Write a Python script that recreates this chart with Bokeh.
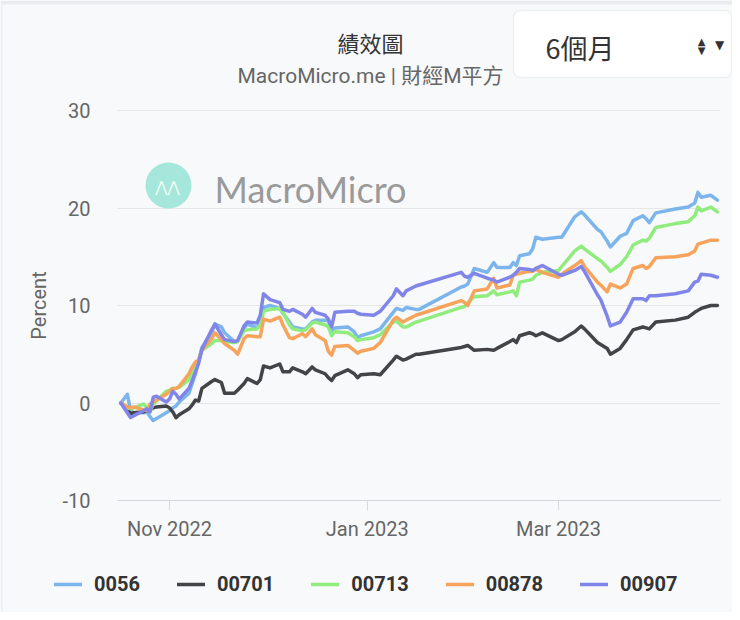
import math
import pandas as pd
from bokeh.plotting import figure
from bokeh.models import (ColumnDataSource, Range1d, FixedTicker, DatetimeTickFormatter,
                          Legend, LegendItem, Label, BoxAnnotation)
from bokeh.embed import file_html
from bokeh.resources import INLINE

dates = ["2022-10-17", "2022-10-19", "2022-10-20", "2022-10-21", "2022-10-24", "2022-10-25",
         "2022-10-26", "2022-10-27", "2022-10-28", "2022-10-31", "2022-11-01", "2022-11-02",
         "2022-11-03", "2022-11-04", "2022-11-07", "2022-11-08", "2022-11-09", "2022-11-10",
         "2022-11-11", "2022-11-14", "2022-11-15", "2022-11-17", "2022-11-18", "2022-11-21",
         "2022-11-22", "2022-11-24", "2022-11-25", "2022-11-28", "2022-11-29", "2022-11-30",
         "2022-12-02", "2022-12-05", "2022-12-06", "2022-12-08", "2022-12-09", "2022-12-12",
         "2022-12-13", "2022-12-15", "2022-12-16", "2022-12-19", "2022-12-20", "2022-12-21",
         "2022-12-22", "2022-12-26", "2022-12-28", "2022-12-29", "2022-12-30", "2023-01-03",
         "2023-01-05", "2023-01-09", "2023-01-10", "2023-01-12", "2023-01-13", "2023-01-16",
         "2023-01-17", "2023-01-30", "2023-01-31", "2023-02-01", "2023-02-03", "2023-02-07",
         "2023-02-09", "2023-02-10", "2023-02-14", "2023-02-15", "2023-02-16", "2023-02-17",
         "2023-02-20", "2023-02-21", "2023-02-22", "2023-02-24", "2023-03-01", "2023-03-02",
         "2023-03-06", "2023-03-08", "2023-03-09", "2023-03-13", "2023-03-14", "2023-03-16",
         "2023-03-17", "2023-03-20", "2023-03-22", "2023-03-24", "2023-03-27", "2023-03-28",
         "2023-03-29", "2023-03-31", "2023-04-06", "2023-04-10", "2023-04-12", "2023-04-13",
         "2023-04-14", "2023-04-17", "2023-04-19"]

s0056 = [0, 0.9, -0.8, -1.0, -1.0, -0.9, -1.4, -1.8, -1.6, -1.0, -0.8, -0.5,
         -0.3, 0.1, 1.0, 2.0, 3.0, 4.4, 5.7, 7.2, 8.1, 7.8, 7.2, 6.3,
         6.3, 7.7, 8.1, 7.7, 8.2, 9.8, 10.0, 9.7, 9.2, 8.3, 7.8, 7.6,
         7.6, 8.3, 8.5, 8.5, 8.4, 7.4, 7.7, 7.8, 7.3, 6.7, 6.9, 7.3,
         7.6, 9.3, 9.7, 9.5, 9.8, 9.6, 9.6, 11.9, 12.0, 12.2, 13.8, 13.4,
         14.4, 13.9, 13.9, 14.4, 14.1, 15.1, 15.3, 15.8, 17.0, 16.8, 17.0, 17.0,
         19.1, 19.6, 19.3, 17.8, 17.6, 16.6, 16.0, 17.1, 17.4, 18.7, 19.2, 18.9,
         18.5, 19.5, 19.9, 20.1, 20.5, 21.6, 21.1, 21.3, 20.8]

s00701 = [0, -0.6, -1.1, -1.0, -0.9, -0.8, -0.7, -0.5, -0.4, -0.3, -0.5, -0.9,
          -1.5, -1.2, -0.6, -0.2, 0.3, 0.2, 1.5, 2.2, 2.4, 2.1, 1.0, 1.0,
          1.3, 2.0, 2.5, 2.0, 2.4, 3.8, 3.6, 4.0, 3.2, 3.2, 3.6, 3.2,
          3.0, 3.7, 3.4, 3.0, 2.6, 2.3, 2.8, 3.4, 3.0, 2.6, 2.9, 3.0,
          2.9, 4.4, 4.8, 4.4, 4.5, 5.0, 5.0, 5.7, 5.8, 5.9, 5.4, 5.5,
          5.4, 5.6, 6.3, 6.5, 6.2, 6.9, 7.2, 7.1, 6.9, 7.2, 6.4, 6.5,
          7.3, 7.9, 7.6, 6.2, 6.0, 5.6, 5.0, 5.6, 6.5, 7.5, 7.8, 7.7,
          7.6, 8.3, 8.5, 8.8, 9.3, 9.5, 9.7, 10.0, 10.0]

s00713 = [0, -0.5, -0.6, -0.5, -0.1, -0.5, -0.8, -0.1, 0.2, 1.2, 1.3, 1.5,
          1.5, 1.6, 2.4, 3.2, 3.8, 4.4, 5.4, 6.1, 6.4, 6.4, 6.3, 6.2,
          6.3, 7.4, 7.5, 7.6, 8.0, 9.4, 9.6, 9.7, 9.3, 8.0, 7.6, 7.4,
          7.5, 8.2, 8.3, 8.0, 7.8, 6.9, 7.3, 7.2, 6.8, 6.4, 6.5, 6.7,
          7.0, 8.3, 8.4, 7.8, 7.8, 8.3, 8.4, 9.8, 9.9, 10.3, 10.9, 11.0,
          11.5, 11.1, 11.4, 11.5, 11.0, 12.4, 12.6, 12.7, 13.1, 13.4, 13.6, 14.0,
          15.6, 16.1, 15.8, 14.8, 14.6, 13.9, 13.5, 14.2, 15.0, 16.2, 16.7, 16.6,
          16.9, 18.0, 18.4, 18.6, 19.2, 20.1, 19.7, 20.1, 19.6]

s00878 = [0, -0.4, -0.5, -0.4, -0.7, -0.8, -0.1, 0.1, 0.3, 0.9, 1.2, 1.5,
          1.5, 1.7, 3.0, 3.7, 4.2, 4.4, 5.4, 6.6, 7.2, 6.5, 6.1, 5.4,
          5.0, 6.6, 6.9, 6.8, 6.8, 8.6, 8.4, 8.8, 8.0, 6.7, 6.6, 7.1,
          6.8, 7.6, 7.0, 6.4, 5.3, 4.9, 5.8, 5.9, 5.4, 5.1, 5.3, 5.6,
          6.2, 8.5, 8.8, 8.3, 8.5, 9.0, 9.1, 10.5, 10.3, 10.0, 11.5, 11.7,
          12.8, 11.8, 12.1, 13.1, 13.2, 13.3, 13.5, 13.5, 13.7, 13.4, 12.9, 13.2,
          14.1, 14.6, 14.0, 12.4, 12.1, 11.4, 12.2, 11.8, 12.2, 13.8, 14.1, 13.8,
          14.0, 14.9, 15.0, 15.2, 15.6, 16.3, 16.4, 16.7, 16.7]

s00907 = [0, -1.0, -1.5, -1.3, -0.8, -0.6, -0.9, 0.6, 0.7, 0.1, 0.4, 1.2,
          0.9, 0.4, 1.5, 2.3, 3.2, 4.1, 5.5, 7.5, 8.1, 7.0, 6.5, 6.3,
          6.4, 7.9, 8.3, 8.2, 9.0, 11.2, 10.6, 10.3, 9.6, 9.4, 9.6, 9.1,
          8.8, 9.7, 9.3, 9.0, 8.6, 7.8, 9.3, 9.4, 9.4, 9.2, 9.1, 9.0,
          9.4, 11.0, 11.7, 11.0, 11.5, 12.0, 12.1, 13.4, 13.0, 12.9, 13.3, 12.8,
          12.6, 12.4, 12.9, 13.1, 13.4, 13.8, 13.7, 13.6, 13.8, 14.1, 13.2, 13.1,
          13.6, 14.0, 13.5, 11.1, 10.6, 8.9, 7.9, 8.3, 9.3, 10.7, 10.7, 10.5,
          11.0, 11.0, 11.2, 11.5, 12.4, 12.5, 13.2, 13.1, 12.9]

series_names = ["0056", "00701", "00713", "00878", "00907"]
series_values = [s0056, s00701, s00713, s00878, s00907]
colors = ["#7cb5ec", "#434348", "#90ed7d", "#f7a35c", "#8085e9"]

x_ticks = ["2022-11-01", "2023-01-01", "2023-03-01"]
y_ticks = [-10, 0, 10, 20, 30]
y_tick_labels = ["-10", "0", "10", "20", "30"]

title_text = "績效圖"
subtitle_text = "MacroMicro.me | 財經M平方"
select_text = "6個月"
watermark_text = "MacroMicro"
y_label = "Percent"

FONT = "Roboto, 'Noto Sans CJK TC'"
CJK = "'Noto Sans CJK TC', Roboto"
BG = "#f8f9fa"
W, H = 732, 612

# plotting area (in canvas pixels) -> data windows
PX_LEFT, PX_RIGHT, PX_TOP, PX_BOTTOM = 117, 720, 110, 500
Y_MIN, Y_MAX = -10, 30
x0 = pd.Timestamp("2022-11-01")
PX_X0 = 169.0          # canvas x of 2022-11-01
PX_PER_DAY = 3.242
px_per_unit = (PX_BOTTOM - PX_TOP) / (Y_MAX - Y_MIN)


def day_at(px):
    return x0 + pd.Timedelta(days=(px - PX_X0) / PX_PER_DAY)


def ms(ts):
    return ts.value // 10**6


data_left, data_right = day_at(PX_LEFT), day_at(PX_RIGHT)

data = {"date": pd.to_datetime(dates)}
for n, v in zip(series_names, series_values):
    data["s" + n] = v
src = ColumnDataSource(data)

p = figure(width=W, height=H, x_axis_type="datetime",
           x_range=Range1d(day_at(0), day_at(W)),
           y_range=Range1d(Y_MIN - (H - PX_BOTTOM) / px_per_unit, Y_MAX + PX_TOP / px_per_unit),
           output_backend="svg", toolbar_location=None,
           min_border_left=0, min_border_right=0, min_border_top=0, min_border_bottom=0)
p.title.visible = False
p.background_fill_color = BG
p.border_fill_color = BG
p.outline_line_color = None

# container edges
p.add_layout(BoxAnnotation(left=0, right=W, top=H, bottom=H - 4,
                           left_units="screen", right_units="screen",
                           top_units="screen", bottom_units="screen",
                           fill_color="#e9ebee", fill_alpha=1, line_color=None, level="underlay"))
p.add_layout(BoxAnnotation(left=0, right=2, top=H - 4, bottom=0,
                           left_units="screen", right_units="screen",
                           top_units="screen", bottom_units="screen",
                           fill_color="#eceef1", fill_alpha=1, line_color=None, level="underlay"))

# watermark
p.add_layout(BoxAnnotation(left=145, right=191, bottom=H - 208, top=H - 162,
                           left_units="screen", right_units="screen",
                           top_units="screen", bottom_units="screen",
                           fill_color="#97e4d3", fill_alpha=0.85, line_color=None,
                           border_radius=23, level="underlay"))
p.add_layout(Label(x=167, y=H - 186, x_units="screen", y_units="screen", text="⋀⋀",
                   text_align="center", text_baseline="middle", text_font="DejaVu Sans",
                   text_font_size="15px", text_color="white", text_alpha=0.9, level="underlay"))
p.add_layout(Label(x=214, y=H - 188, x_units="screen", y_units="screen", text=watermark_text,
                   text_align="left", text_baseline="middle", text_font="Lato",
                   text_font_size="36px", text_color="#9a9a9a", level="underlay"))

renderers = []
for n, c in zip(series_names, colors):
    r = p.line("date", "s" + n, source=src, line_color=c, line_width=3.5,
               line_join="round", line_cap="round")
    renderers.append(r)

# grid
p.xgrid.visible = False
p.ygrid.ticker = FixedTicker(ticks=y_ticks)
p.ygrid.grid_line_color = "#e6e6e6"
p.ygrid.grid_line_width = 1
p.ygrid.cross_bounds = (ms(data_left), ms(data_right))

# y axis
p.yaxis.fixed_location = ms(data_left)
p.yaxis.ticker = FixedTicker(ticks=y_ticks)
p.yaxis.major_label_overrides = dict(zip(y_ticks, y_tick_labels))
p.yaxis.bounds = (Y_MIN, Y_MAX)
p.yaxis.axis_line_color = None
p.yaxis.major_tick_line_color = None
p.yaxis.minor_tick_line_color = None
p.yaxis.major_tick_out = 0
p.yaxis.major_tick_in = 0
p.yaxis.major_label_standoff = 27
p.yaxis.major_label_text_font = FONT
p.yaxis.major_label_text_font_size = "20px"
p.yaxis.major_label_text_color = "#666666"

p.add_layout(Label(x=38, y=H - 305, x_units="screen", y_units="screen", text=y_label,
                   angle=math.pi / 2, text_align="center", text_baseline="middle",
                   text_font=FONT, text_font_size="20px", text_color="#666666"))

# x axis
p.xaxis.fixed_location = Y_MIN
p.xaxis.bounds = (ms(data_left), ms(data_right))
p.xaxis.ticker = FixedTicker(ticks=[ms(pd.Timestamp(t)) for t in x_ticks])
p.xaxis.formatter = DatetimeTickFormatter(days="%b %Y", months="%b %Y", years="%b %Y")
p.xaxis.axis_line_color = "#d5d9df"
p.xaxis.major_tick_line_color = "#d5d9df"
p.xaxis.minor_tick_line_color = None
p.xaxis.major_tick_out = 10
p.xaxis.major_tick_in = 0
p.xaxis.major_label_standoff = 6
p.xaxis.major_label_text_font = FONT
p.xaxis.major_label_text_font_size = "20px"
p.xaxis.major_label_text_color = "#666666"

# legend
legend = Legend(items=[LegendItem(label=n, renderers=[r]) for n, r in zip(series_names, renderers)],
                orientation="horizontal", location=(44, H - 606),
                label_text_font=FONT, label_text_font_size="20px",
                label_text_font_style="bold", label_text_color="#333333",
                glyph_width=28, glyph_height=20, label_standoff=12, spacing=37,
                background_fill_alpha=0, border_line_alpha=0, margin=0, padding=10)
p.add_layout(legend, "center")

# header
p.add_layout(Label(x=370, y=H - 41, x_units="screen", y_units="screen", text=title_text,
                   text_align="center", text_baseline="middle", text_font=CJK,
                   text_font_size="22px", text_color="#333333"))
p.add_layout(Label(x=370, y=H - 75, x_units="screen", y_units="screen", text=subtitle_text,
                   text_align="center", text_baseline="middle", text_font=FONT,
                   text_font_size="21px", text_color="#666666"))
p.add_layout(BoxAnnotation(left=513, right=W - 1, top=H - 10, bottom=H - 77,
                           left_units="screen", right_units="screen",
                           top_units="screen", bottom_units="screen",
                           fill_color="white", fill_alpha=1, line_color="#cfd3d8",
                           line_width=1.5, border_radius=7))
p.add_layout(Label(x=545, y=H - 47, x_units="screen", y_units="screen", text=select_text,
                   text_align="left", text_baseline="middle", text_font=CJK,
                   text_font_size="27px", text_color="#333333"))
p.add_layout(Label(x=701, y=H - 41, x_units="screen", y_units="screen", text="▲",
                   text_align="center", text_baseline="middle", text_font="DejaVu Sans",
                   text_font_size="10px", text_color="#333333"))
p.add_layout(Label(x=701, y=H - 50, x_units="screen", y_units="screen", text="▼",
                   text_align="center", text_baseline="middle", text_font="DejaVu Sans",
                   text_font_size="10px", text_color="#333333"))
p.add_layout(Label(x=719, y=H - 44, x_units="screen", y_units="screen", text="▼",
                   text_align="center", text_baseline="middle", text_font="DejaVu Sans",
                   text_font_size="12px", text_color="#333333"))

open("out.html", "w").write(file_html(p, INLINE))
